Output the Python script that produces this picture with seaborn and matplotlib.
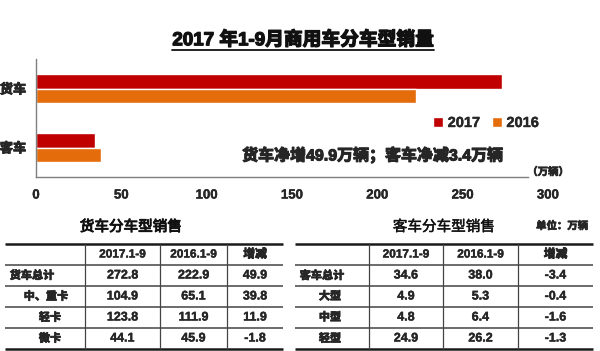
"""Commercial vehicle sales by type, Jan-Sep 2017 vs 2016"""

import matplotlib

matplotlib.use("Agg")
import matplotlib.pyplot as plt
import matplotlib.patheffects as pe
import pandas as pd
import seaborn as sns
from matplotlib.lines import Line2D
from matplotlib.text import Text

# bar chart data (万辆)
categories = ["货车", "客车"]
years = ["2017", "2016"]
sales_2017 = [272.8, 34.6]
sales_2016 = [222.9, 38.0]

# table data
table_header = ["2017.1-9", "2016.1-9", "增减"]
truck_rows = ["货车总计", "中、重卡", "轻卡", "微卡"]
truck_2017 = [272.8, 104.9, 123.8, 44.1]
truck_2016 = [222.9, 65.1, 111.9, 45.9]
truck_diff = [49.9, 39.8, 11.9, -1.8]
bus_rows = ["客车总计", "大型", "中型", "轻型"]
bus_2017 = [34.6, 4.9, 4.8, 24.9]
bus_2016 = [38.0, 5.3, 6.4, 26.2]
bus_diff = [-3.4, -0.4, -1.6, -1.3]

W, H = 600, 351
RED = "#C00000"
ORANGE = "#E46C0A"
FONT = ["Liberation Sans", "Noto Sans CJK SC", "DejaVu Sans"]


def draw_table(ax, x_edges, label_x, rows, cols, title, title_x, title_stroke):
    """Draw one of the little tables, in pixel coords."""
    y_lines = [244, 265, 286, 307, 328, 349]
    ax.hlines([y_lines[0], y_lines[-1]], x_edges[0], x_edges[-1],
              color="#1a1a1a", lw=1.8)
    ax.hlines(y_lines[1:-1], x_edges[0], x_edges[-1], color="#444444", lw=1.1)
    ax.vlines(x_edges[1:-1], y_lines[0], y_lines[-1], color="#444444", lw=0.9)
    t = ax.text(title_x, 227, title, ha="center", va="center", fontsize=10.5,
                family=FONT, color="#111111")
    t.set_path_effects(
        [pe.withStroke(linewidth=title_stroke, foreground="#111111")]
    )
    centers = [(x_edges[i] + x_edges[i + 1]) / 2 for i in range(1, 4)]
    hy = (y_lines[0] + y_lines[1]) / 2
    for cx, h in zip(centers, table_header):
        ax.text(cx, hy, h, ha="center", va="center", fontsize=8.5,
                fontweight="bold", family=FONT)
    for r, name in enumerate(rows):
        ry = (y_lines[r + 1] + y_lines[r + 2]) / 2
        ax.text(label_x[r], ry, name, ha="center", va="center", fontsize=8,
                fontweight="bold", family=FONT)
        for cx, col in zip(centers, cols):
            ax.text(cx, ry, f"{col[r]:.1f}", ha="center", va="center",
                    fontsize=9, fontweight="bold", family=FONT)


def has_cjk(s):
    """Does the string hold any CJK glyphs."""
    return any(ord(c) > 0x2E80 for c in s)


def main():
    """Go Main."""
    sns.set_style("white")
    plt.rcParams["font.family"] = FONT
    plt.rcParams["axes.unicode_minus"] = False

    df = pd.DataFrame(
        {
            "category": categories * 2,
            "year": [years[0]] * 2 + [years[1]] * 2,
            "sales": sales_2017 + sales_2016,
        }
    )

    fig = plt.figure(figsize=(W / 100, H / 100), dpi=100)
    ax = fig.add_axes([36 / W, 1 - 177 / H, 512 / W, 118 / H])

    sns.barplot(
        data=df,
        x="sales",
        y="category",
        hue="year",
        hue_order=years,
        order=categories,
        palette={years[0]: RED, years[1]: ORANGE},
        orient="h",
        width=0.5,
        gap=0,
        saturation=1,
        ax=ax,
    )

    ax.set_xlim(0, 300)
    ax.set_ylim(1.5, -0.5)
    ax.set_xticks(range(0, 301, 50))
    ax.set_xlabel("")
    ax.set_ylabel("")
    for s in ["top", "right"]:
        ax.spines[s].set_visible(False)
    for s in ["left", "bottom"]:
        ax.spines[s].set_color("#7f7f7f")
        ax.spines[s].set_linewidth(1.0)
    ax.spines["bottom"].set_bounds(0, 288)
    ax.tick_params(axis="x", direction="in", length=4, color="#7f7f7f",
                   pad=9, labelsize=9.5)
    for lab in ax.get_xticklabels():
        lab.set_fontweight("bold")
    ax.set_yticks([-0.5, 0.5, 1.5], minor=True)
    ax.tick_params(axis="y", which="minor", direction="out", length=4,
                   color="#7f7f7f", width=1)
    ax.tick_params(axis="y", which="major", length=0, pad=7, labelsize=9.5)
    for lab in ax.get_yticklabels():
        lab.set_fontweight("bold")

    handles, labels = ax.get_legend_handles_labels()
    ax.legend(
        handles,
        labels,
        ncol=2,
        frameon=False,
        loc="center",
        bbox_to_anchor=(486 / W, 1 - 123 / H),
        bbox_transform=fig.transFigure,
        handlelength=0.7,
        handleheight=0.7,
        handletextpad=0.3,
        columnspacing=0.8,
        prop={"weight": "bold", "size": 10.5},
    )

    fig.text(373 / W, 1 - 155 / H, "货车净增49.9万辆；客车净减3.4万辆",
             ha="center", va="center", fontsize=11.5, fontweight="bold")
    fig.text(548 / W, 1 - 172 / H, "（万辆）", ha="center", va="center",
             fontsize=7.5, fontweight="bold")

    title = fig.text(303 / W, 1 - 40 / H, "2017 年1-9月商用车分车型销量",
                     ha="center", va="center", fontsize=13.5,
                     fontweight="bold", color="#111111")

    # tables live on an overlay axes in pixel coordinates
    tax = fig.add_axes([0, 0, 1, 1])
    tax.set_xlim(0, W)
    tax.set_ylim(H, 0)
    tax.axis("off")
    draw_table(tax, [5, 85, 160, 227, 283], [32, 46, 50, 50], truck_rows,
               [truck_2017, truck_2016, truck_diff], "货车分车型销售", 131,
               0.7)
    draw_table(tax, [295, 369, 443, 518, 593], [322, 330, 330, 330],
               bus_rows, [bus_2017, bus_2016, bus_diff], "客车分车型销售", 444,
               0.35)
    tax.text(562, 226, "单位：万辆", ha="center", va="center", fontsize=7.5,
             fontweight="bold")

    # the CJK font has no bold face here, so thicken bold text by hand
    for t in fig.findobj(Text):
        if t.get_fontweight() not in ("bold", 700) or not t.get_text():
            continue
        lw = 0.07 * t.get_fontsize() if has_cjk(t.get_text()) else 0.3
        t.set_path_effects([pe.withStroke(linewidth=lw, foreground=t.get_color())])

    # underline the title
    fig.canvas.draw()
    bb = title.get_window_extent().transformed(fig.transFigure.inverted())
    fig.add_artist(
        Line2D([bb.x0, bb.x1], [1 - 50 / H] * 2, transform=fig.transFigure,
               color="#111111", lw=1.3)
    )

    fig.savefig("out.png", dpi=100)


if __name__ == "__main__":
    main()
